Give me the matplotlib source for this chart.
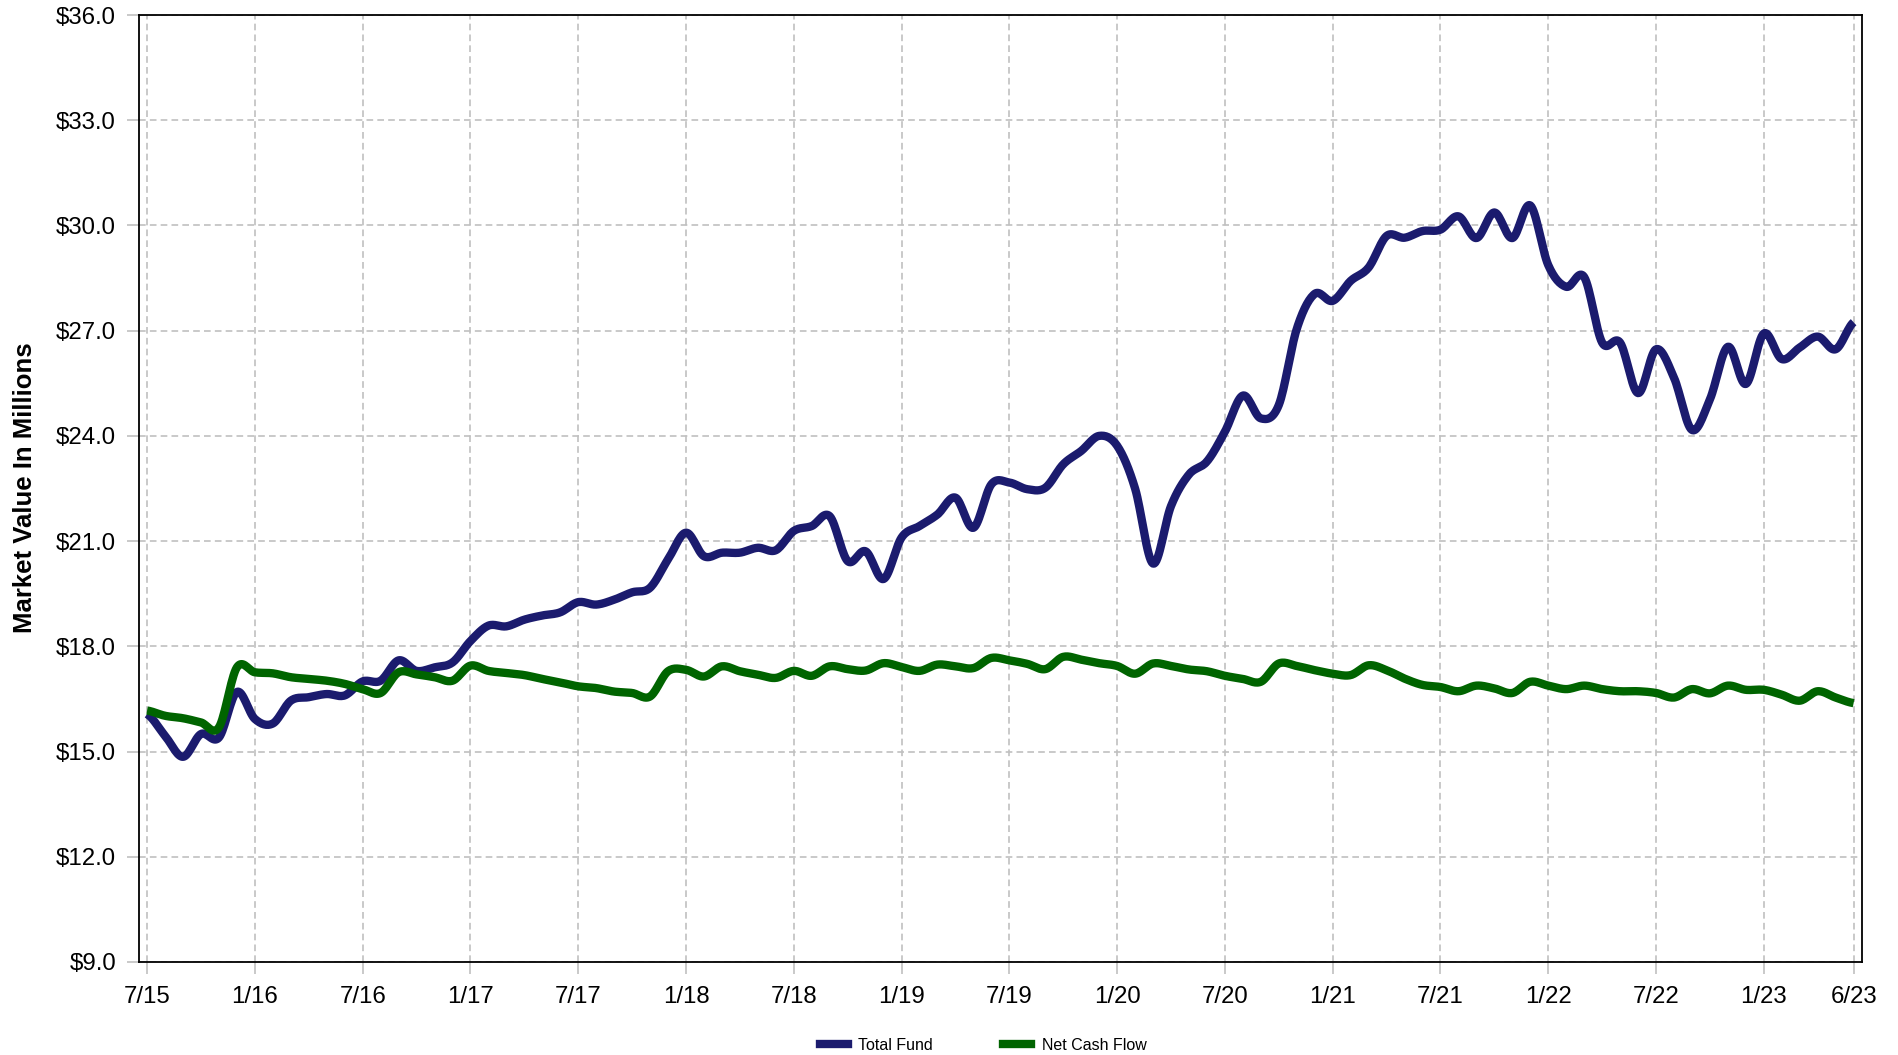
import numpy as np
import matplotlib
matplotlib.use("Agg")
import matplotlib.pyplot as plt
from matplotlib.lines import Line2D

plt.rcParams['font.family'] = ['Liberation Sans', 'DejaVu Sans']

# Monthly data, 7/15 .. 6/23 (96 months), in $ millions
total_fund = [
    16.07, 15.45, 14.85, 15.50, 15.40, 16.70, 15.93, 15.80, 16.45, 16.55, 16.64, 16.60,
    17.00, 17.02, 17.60, 17.30, 17.40, 17.54, 18.15, 18.59, 18.57, 18.76, 18.88, 18.97,
    19.26, 19.19, 19.33, 19.54, 19.67, 20.48, 21.24, 20.57, 20.67, 20.67, 20.81, 20.74,
    21.29, 21.43, 21.71, 20.43, 20.71, 19.92, 21.10, 21.43, 21.76, 22.24, 21.38, 22.62,
    22.67, 22.48, 22.52, 23.19, 23.57, 24.00, 23.72, 22.50, 20.36, 22.00, 22.90, 23.27,
    24.12, 25.15, 24.50, 24.88, 27.05, 28.05, 27.85, 28.42, 28.80, 29.70, 29.65, 29.84,
    29.88, 30.26, 29.64, 30.37, 29.64, 30.57, 28.87, 28.25, 28.53, 26.66, 26.66, 25.22,
    26.47, 25.66, 24.17, 25.04, 26.54, 25.48, 26.92, 26.19, 26.52, 26.83, 26.47, 27.24,
]
net_cash_flow = [
    16.17, 16.02, 15.95, 15.83, 15.69, 17.40, 17.26, 17.23, 17.12, 17.07, 17.02, 16.93,
    16.78, 16.67, 17.26, 17.20, 17.12, 17.02, 17.45, 17.30, 17.24, 17.18, 17.07, 16.97,
    16.86, 16.81, 16.71, 16.67, 16.57, 17.29, 17.33, 17.14, 17.43, 17.29, 17.19, 17.10,
    17.30, 17.16, 17.43, 17.35, 17.31, 17.52, 17.41, 17.30, 17.48, 17.43, 17.38, 17.67,
    17.60, 17.50, 17.35, 17.70, 17.62, 17.52, 17.44, 17.22, 17.51, 17.44, 17.34, 17.29,
    17.16, 17.07, 16.99, 17.51, 17.44, 17.32, 17.22, 17.18, 17.46, 17.32, 17.08, 16.90,
    16.84, 16.72, 16.88, 16.80, 16.67, 16.99, 16.88, 16.78, 16.88, 16.78, 16.72, 16.72,
    16.67, 16.54, 16.78, 16.66, 16.88, 16.76, 16.76, 16.62, 16.45, 16.72, 16.54, 16.38,
]
tick_months = [0, 6, 12, 18, 24, 30, 36, 42, 48, 54, 60, 66, 72, 78, 84, 90, 95]
tick_labels = ['7/15', '1/16', '7/16', '1/17', '7/17', '1/18', '7/18', '1/19', '7/19',
               '1/20', '7/20', '1/21', '7/21', '1/22', '7/22', '1/23', '6/23']
y_ticks = [9, 12, 15, 18, 21, 24, 27, 30, 33, 36]
series_names = ['Total Fund', 'Net Cash Flow']
series_colors = ['#1B1B6E', '#006400']


def catmull_rom(y, n=16):
    """Smooth rendering curve through the monthly points (Catmull-Rom)."""
    y = np.asarray(y, float)
    x = np.arange(len(y), dtype=float)
    p = np.concatenate([[y[0]], y, [y[-1]]])
    xs, ys = [], []
    t = np.linspace(0, 1, n, endpoint=False)
    for i in range(len(y) - 1):
        p0, p1, p2, p3 = p[i], p[i + 1], p[i + 2], p[i + 3]
        seg = 0.5 * ((2 * p1) + (-p0 + p2) * t + (2 * p0 - 5 * p1 + 4 * p2 - p3) * t ** 2
                     + (-p0 + 3 * p1 - 3 * p2 + p3) * t ** 3)
        xs.append(x[i] + t)
        ys.append(seg)
    xs.append([x[-1]])
    ys.append([y[-1]])
    return np.concatenate(xs), np.concatenate(ys)


fig = plt.figure(figsize=(18.98, 10.55), dpi=100)
ax = fig.add_axes([139 / 1898, 1 - 962 / 1055, (1861.7 - 139) / 1898, (962 - 15) / 1055])

for vals, col in zip([total_fund, net_cash_flow], series_colors):
    xs, ys = catmull_rom(vals)
    ax.plot(xs, ys, color=col, lw=6.0, solid_capstyle='butt', solid_joinstyle='round', zorder=3)

ax.set_xlim(-0.45, 95.45)
ax.set_ylim(9, 36)
ax.set_xticks(tick_months)
ax.set_xticklabels(tick_labels)
ax.set_yticks(y_ticks)
ax.set_yticklabels([f'${v:.1f}' for v in y_ticks])

ax.grid(True, color='#C0C0C0', linestyle=(0, (4, 2.5)), linewidth=1.2, zorder=0)
ax.tick_params(axis='both', direction='out', length=8.5, width=1.2, color='#C0C0C0',
               labelsize=17.3, labelcolor='black')
ax.tick_params(axis='y', pad=8)
ax.tick_params(axis='x', pad=9)
for s in ax.spines.values():
    s.set_color('black')
    s.set_linewidth(1.3)

fig.text(25 / 1898, 1 - 488 / 1055, 'Market Value In Millions', rotation=90,
         ha='center', va='center', fontsize=18.5, fontweight='bold')

handles = [Line2D([], [], color=c, lw=6.0) for c in series_colors]
fig.legend(handles, series_names, loc='center', bbox_to_anchor=(0.518, 1 - 1045 / 1055),
           ncol=2, frameon=False, fontsize=11.5, handlelength=1.75, handletextpad=0.65,
           columnspacing=4.4)

fig.savefig('out.png', dpi=100)
